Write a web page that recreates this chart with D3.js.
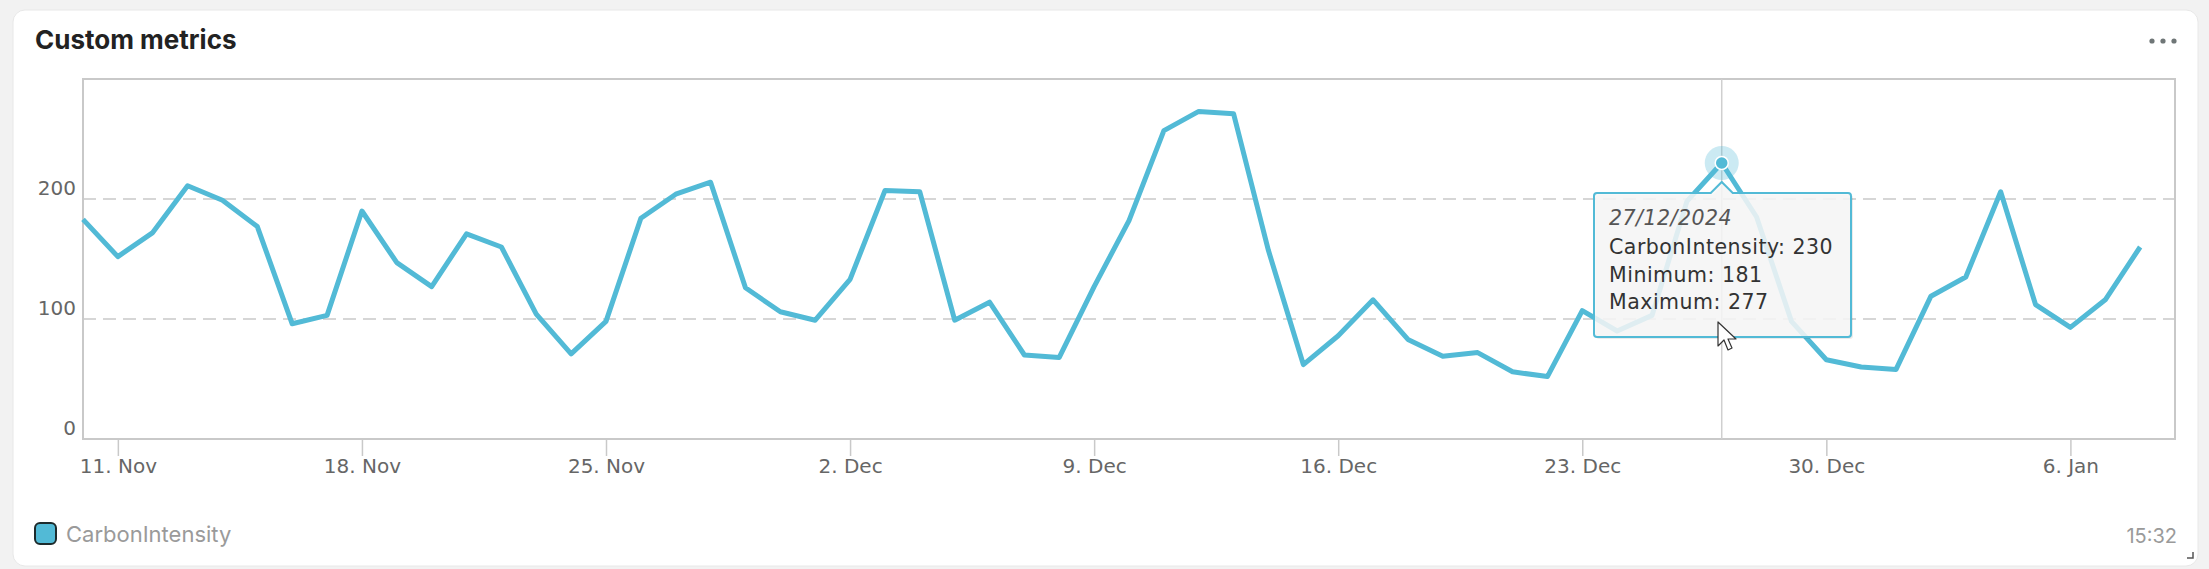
<!DOCTYPE html>
<html>
<head>
<meta charset="utf-8">
<script src="https://cdn.jsdelivr.net/npm/d3@7"></script>
<style>
  html, body { margin: 0; padding: 0; background: #f2f2f2; }
  svg { display: block; }
</style>
</head>
<body>
<div id="chart"></div>
<script>
// daily readings, 10 Nov 2024 .. 8 Jan 2025
const startDay = '2024-11-10';
const endDay = '2025-01-09';
const carbonIntensity = [
  183, 152, 172, 211, 199, 177, 96, 103, 190, 147, 127, 171, 160, 104, 71,
  98, 184, 204, 214, 126, 106, 99, 133, 207, 206, 99, 114, 70, 68, 127,
  182, 257, 273, 271, 157, 62, 86, 116, 83, 69, 72, 56, 52, 107, 90,
  103, 198, 230, 185, 98, 66, 60, 58, 119, 135, 206, 112, 93, 116, 160
];
const yTicks = [0, 100, 200];
const seriesName = 'CarbonIntensity';
const hoverDay = '2024-12-27';
const hoverLines = ['CarbonIntensity: 230', 'Minimum: 181', 'Maximum: 277'];

const W = 2209, H = 569;
const plot = { left: 83, top: 79, right: 2175, bottom: 439 };
const blue = '#52bad6';
const parse = d3.utcParse('%Y-%m-%d');

const days = d3.utcDay.range(parse(startDay), parse(endDay));
const data = days.map((d, i) => ({ date: d, value: carbonIntensity[i] }));

const svg = d3.select('#chart').append('svg')
  .attr('width', W)
  .attr('height', H);

// card
svg.append('rect')
  .attr('x', 13).attr('y', 10)
  .attr('width', 2185).attr('height', 556)
  .attr('rx', 12)
  .attr('fill', '#fff')
  .attr('stroke', '#e8e8e8');

svg.append('text')
  .attr('x', 35).attr('y', 49)
  .attr('font-family', 'Inter, sans-serif')
  .attr('font-weight', 700)
  .attr('font-size', 26)
  .attr('fill', '#222')
  .text('Custom metrics');

// menu dots
svg.append('g').selectAll('circle')
  .data([2152, 2163, 2174])
  .join('circle')
  .attr('cx', d => d).attr('cy', 41).attr('r', 2.6)
  .attr('fill', '#6f7677');

const x = d3.scaleUtc()
  .domain([parse(startDay), parse(endDay)])
  .range([plot.left, plot.right]);
const y = d3.scaleLinear()
  .domain([0, 300])
  .range([plot.bottom, plot.top]);

// grid
svg.append('g').selectAll('line')
  .data(yTicks.filter(d => d > 0))
  .join('line')
  .attr('x1', plot.left).attr('x2', plot.right)
  .attr('y1', d => y(d)).attr('y2', d => y(d))
  .attr('stroke', '#c9c9c9')
  .attr('stroke-width', 1.5)
  .attr('stroke-dasharray', '13,7');

// y labels
svg.append('g').selectAll('text')
  .data(yTicks)
  .join('text')
  .attr('x', 76)
  .attr('y', d => y(d) - 4)
  .attr('text-anchor', 'end')
  .attr('font-family', 'DejaVu Sans, sans-serif')
  .attr('font-size', 20)
  .attr('fill', '#666')
  .text(d => d);

// x axis
const xAxis = svg.append('g')
  .attr('transform', 'translate(0,' + plot.bottom + ')')
  .call(d3.axisBottom(x)
    .ticks(d3.utcMonday.every(1))
    .tickSize(17)
    .tickPadding(3)
    .tickFormat(d3.utcFormat('%-d. %b')));
xAxis.select('.domain').remove();
xAxis.selectAll('.tick line').attr('stroke', '#c9c9c9').attr('stroke-width', 1.5);
xAxis.selectAll('.tick text')
  .attr('font-family', 'DejaVu Sans, sans-serif')
  .attr('font-size', 20)
  .attr('fill', '#666');

// frame
svg.append('rect')
  .attr('x', plot.left).attr('y', plot.top)
  .attr('width', plot.right - plot.left)
  .attr('height', plot.bottom - plot.top)
  .attr('fill', 'none')
  .attr('stroke', '#c9c9c9')
  .attr('stroke-width', 2);

// crosshair
const hx = x(parse(hoverDay));
svg.append('line')
  .attr('x1', hx).attr('x2', hx)
  .attr('y1', plot.top).attr('y2', plot.bottom)
  .attr('stroke', '#cfcfcf')
  .attr('stroke-width', 1.5);

// series
const line = d3.line()
  .x(d => x(d.date))
  .y(d => y(d.value));
svg.append('path')
  .datum(data)
  .attr('d', line)
  .attr('fill', 'none')
  .attr('stroke', blue)
  .attr('stroke-width', 5)
  .attr('stroke-linejoin', 'round');

// hover marker
const hp = data.find(d => +d.date === +parse(hoverDay));
svg.append('circle')
  .attr('cx', x(hp.date)).attr('cy', y(hp.value))
  .attr('r', 17)
  .attr('fill', blue).attr('opacity', 0.3);
svg.append('circle')
  .attr('cx', x(hp.date)).attr('cy', y(hp.value))
  .attr('r', 6.5)
  .attr('fill', blue)
  .attr('stroke', '#fff').attr('stroke-width', 1.5);

// tooltip
const tip = { x: 1594, y: 193, w: 257, h: 144 };
const tipPath = 'M' + (tip.x + 3) + ',' + tip.y +
  ' L' + (hx - 11) + ',' + tip.y +
  ' L' + hx + ',' + (tip.y - 11) +
  ' L' + (hx + 11) + ',' + tip.y +
  ' L' + (tip.x + tip.w - 3) + ',' + tip.y +
  ' Q' + (tip.x + tip.w) + ',' + tip.y + ' ' + (tip.x + tip.w) + ',' + (tip.y + 3) +
  ' L' + (tip.x + tip.w) + ',' + (tip.y + tip.h - 3) +
  ' Q' + (tip.x + tip.w) + ',' + (tip.y + tip.h) + ' ' + (tip.x + tip.w - 3) + ',' + (tip.y + tip.h) +
  ' L' + (tip.x + 3) + ',' + (tip.y + tip.h) +
  ' Q' + tip.x + ',' + (tip.y + tip.h) + ' ' + tip.x + ',' + (tip.y + tip.h - 3) +
  ' L' + tip.x + ',' + (tip.y + 3) +
  ' Q' + tip.x + ',' + tip.y + ' ' + (tip.x + 3) + ',' + tip.y + ' Z';
svg.append('path')
  .attr('d', tipPath)
  .attr('transform', 'translate(2,2)')
  .attr('fill', '#000').attr('opacity', 0.08);
svg.append('path')
  .attr('d', tipPath)
  .attr('fill', '#f8f8f8').attr('fill-opacity', 0.86)
  .attr('stroke', blue).attr('stroke-width', 2);

const tipText = svg.append('g')
  .attr('font-family', 'DejaVu Sans, sans-serif')
  .attr('font-size', 20.5)
  .attr('letter-spacing', 0.5);
tipText.append('text')
  .attr('x', tip.x + 15).attr('y', 225)
  .attr('font-style', 'italic')
  .attr('fill', '#555')
  .text(d3.utcFormat('%d/%m/%Y')(parse(hoverDay)));
tipText.selectAll('.row')
  .data(hoverLines)
  .join('text')
  .attr('class', 'row')
  .attr('x', tip.x + 15)
  .attr('y', (d, i) => 254 + i * 27.5)
  .attr('fill', '#333')
  .text(d => d);

// mouse pointer
svg.append('path')
  .attr('transform', 'translate(1718,322)')
  .attr('d', 'M0,0 L0,24 L6,18 L10,28 L14,26 L10,17 L18,17 Z')
  .attr('fill', '#fff')
  .attr('stroke', '#333')
  .attr('stroke-width', 1.2)
  .attr('stroke-linejoin', 'round');

// legend
svg.append('rect')
  .attr('x', 35).attr('y', 523)
  .attr('width', 21).attr('height', 21)
  .attr('rx', 5)
  .attr('fill', blue)
  .attr('stroke', '#1d2b2c').attr('stroke-width', 2);
svg.append('text')
  .attr('x', 66).attr('y', 542)
  .attr('font-family', 'Inter, sans-serif')
  .attr('font-size', 22)
  .attr('fill', '#9a9a9a')
  .text(seriesName);

svg.append('text')
  .attr('x', 2177).attr('y', 543)
  .attr('text-anchor', 'end')
  .attr('font-family', 'Inter, sans-serif')
  .attr('font-size', 20)
  .attr('fill', '#9a9a9a')
  .text('15:32');

// resize handle
svg.append('path')
  .attr('d', 'M2193,552 L2193,558 L2187,558')
  .attr('fill', 'none')
  .attr('stroke', '#555')
  .attr('stroke-width', 1.5);
</script>
</body>
</html>
